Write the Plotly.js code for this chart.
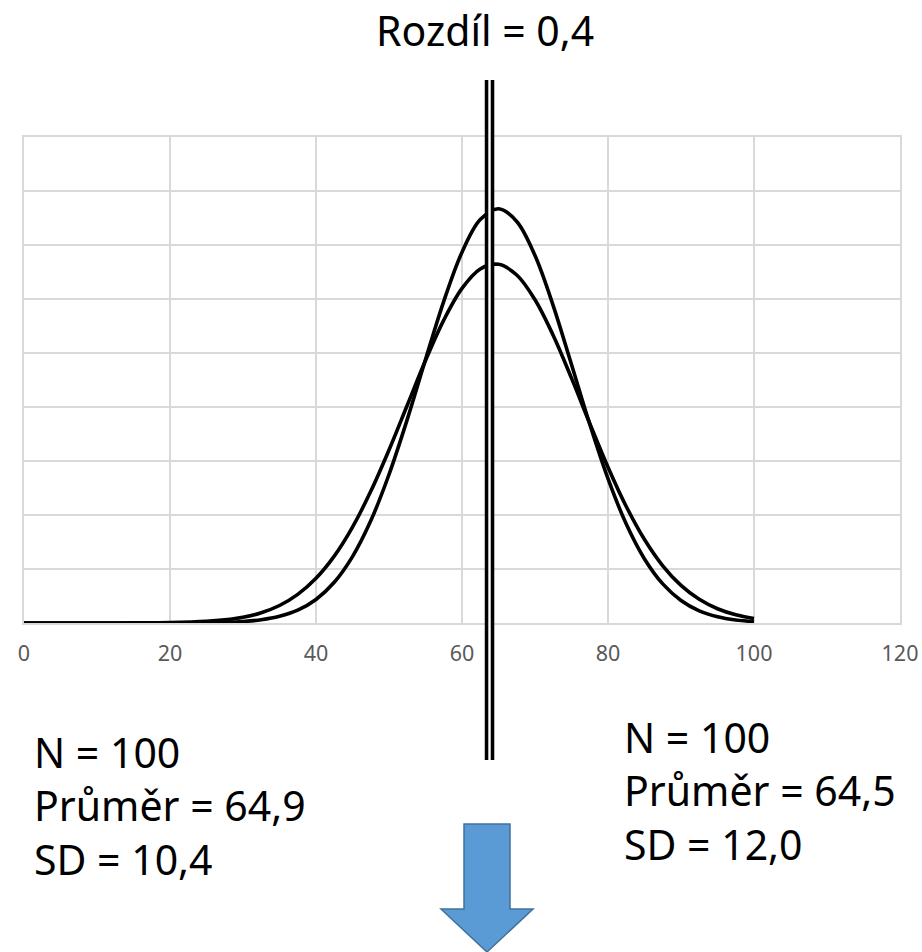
<!DOCTYPE html>
<html>
<head>
<meta charset="utf-8">
<script src="https://cdn.plot.ly/plotly-3.0.1.min.js"></script>
<style>html,body{margin:0;padding:0;background:#fff;}#chart{width:922px;height:952px;}</style>
</head>
<body>
<div id="chart"></div>
<script>
// x positions of the curve points
const xValues = [0, 5, 10, 15, 20, 25, 27.5, 30, 32.5, 35, 37.5, 40, 42.5, 45, 47.5, 50, 52.5, 55, 57.5, 60, 62.5, 65, 67.5, 70, 72.5, 75, 77.5, 80, 82.5, 85, 87.5, 90, 92.5, 95, 97.5, 100];
// group 1: N = 100, mean 64.9, SD 10.4 (taller curve)
const densityGroup1 = [0, 0, 0, 0, 0.000003, 0.000025, 0.00006, 0.000137, 0.0003, 0.00062, 0.00119, 0.00218, 0.00377, 0.00615, 0.00946, 0.01375, 0.01885, 0.02439, 0.02978, 0.03433, 0.03735, 0.03836, 0.03718, 0.03402, 0.02937, 0.02394, 0.01841, 0.01337, 0.00916, 0.00593, 0.00362, 0.00209, 0.00113, 0.00058, 0.00028, 0.00013];
// group 2: N = 100, mean 64.5, SD 12.0 (lower curve)
const densityGroup2 = [0, 0, 0.000001, 0.000007, 0.000034, 0.000147, 0.00029, 0.00053, 0.00095, 0.00162, 0.00265, 0.00414, 0.00619, 0.00888, 0.01219, 0.01602, 0.02016, 0.0243, 0.02804, 0.03098, 0.03278, 0.03321, 0.03222, 0.02993, 0.02662, 0.02267, 0.01848, 0.01443, 0.01079, 0.00773, 0.0053, 0.00348, 0.00219, 0.00132, 0.00076, 0.00042];
const xTicks = [0, 20, 40, 60, 80, 100, 120];
const xTickLabels = ['0', '20', '40', '60', '80', '100', '120'];
const titleText = 'Rozdíl = 0,4';
const leftStats = ['N = 100', 'Průměr = 64,9', 'SD = 10,4'];
const rightStats = ['N = 100', 'Průměr = 64,5', 'SD = 12,0'];
const dividerX = 63.77;

const FONT = '"Noto Sans", "Open Sans", sans-serif';

const traces = [
  {x: xValues, y: densityGroup1, type: 'scatter', mode: 'lines',
   line: {color: '#000000', width: 3.6, shape: 'spline', smoothing: 1}, hoverinfo: 'skip'},
  {x: xValues, y: densityGroup2, type: 'scatter', mode: 'lines',
   line: {color: '#000000', width: 3.6, shape: 'spline', smoothing: 1}, hoverinfo: 'skip'}
];

const layout = {
  width: 922, height: 952,
  margin: {l: 24, r: 22, t: 137, b: 329, pad: 0},
  paper_bgcolor: '#ffffff', plot_bgcolor: '#ffffff',
  showlegend: false,
  font: {family: FONT, color: '#000000'},
  xaxis: {
    range: [0, 120], tickvals: xTicks, ticktext: xTickLabels,
    showgrid: true, gridcolor: '#d9d9d9', gridwidth: 1.6,
    showline: true, linecolor: '#d9d9d9', linewidth: 1.6, mirror: true,
    zeroline: false, ticks: '', ticklabelstandoff: 11,
    tickfont: {family: FONT, size: 21.5, color: '#595959'},
    fixedrange: true
  },
  yaxis: {
    range: [0, 0.045], dtick: 0.005, tick0: 0,
    showgrid: true, gridcolor: '#d9d9d9', gridwidth: 1.6,
    showline: true, linecolor: '#d9d9d9', linewidth: 1.6, mirror: true,
    zeroline: false, showticklabels: false, ticks: '',
    fixedrange: true
  },
  shapes: [
    {type: 'line', xref: 'x', yref: 'paper', x0: dividerX, x1: dividerX, y0: 1.1173, y1: -0.2819,
     line: {color: '#000000', width: 9.5}, layer: 'above'},
    {type: 'line', xref: 'x', yref: 'paper', x0: dividerX, x1: dividerX, y0: 1.1193, y1: -0.2839,
     line: {color: '#ffffff', width: 2.4}, layer: 'above'},
    {type: 'path', xref: 'paper', yref: 'paper',
     path: 'M 0.5023 -0.4136 L 0.5548 -0.4136 L 0.5548 -0.5885 L 0.5811 -0.5885 L 0.5285 -0.6770 L 0.4760 -0.5885 L 0.5023 -0.5885 Z',
     fillcolor: '#5b9bd5', line: {color: '#41719c', width: 1.5}, layer: 'above'}
  ],
  annotations: [
    {text: titleText, xref: 'paper', yref: 'paper', x: 0.5263, y: 1.2202,
     xanchor: 'center', yanchor: 'middle', showarrow: false,
     font: {family: FONT, size: 41, color: '#000000'}},
    {text: leftStats.join('<br>'), xref: 'paper', yref: 'paper', x: 0.0091, y: -0.2037,
     xanchor: 'left', yanchor: 'top', align: 'left', showarrow: false,
     font: {family: FONT, size: 41, color: '#000000'}},
    {text: rightStats.join('<br>'), xref: 'paper', yref: 'paper', x: 0.6826, y: -0.1728,
     xanchor: 'left', yanchor: 'top', align: 'left', showarrow: false,
     font: {family: FONT, size: 41, color: '#000000'}}
  ]
};

Plotly.newPlot('chart', traces, layout, {displayModeBar: false, staticPlot: true});
</script>
</body>
</html>
